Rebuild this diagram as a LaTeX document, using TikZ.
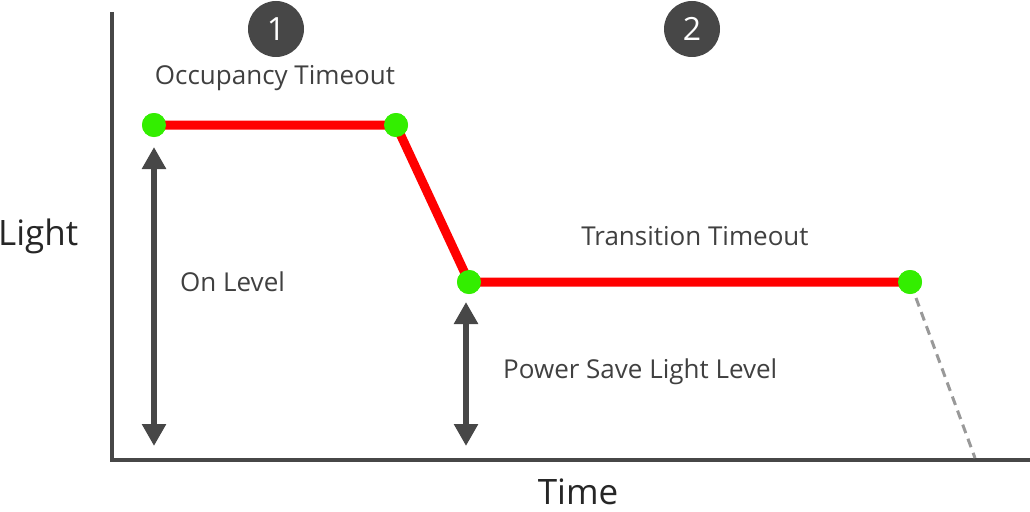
\documentclass[tikz,border=0pt]{standalone}
\usepackage{fontspec}
\setmainfont{Open Sans}
\usetikzlibrary{arrows.meta}
\definecolor{axisgray}{HTML}{474747}
\definecolor{txtgray}{HTML}{404040}
\definecolor{dashgray}{HTML}{999999}
\definecolor{dotgreen}{HTML}{33EE00}
\begin{document}
\begin{tikzpicture}[x=1pt,y=-1pt,
  axis/.style={draw=axisgray,line width=4.5pt},
  level/.style={draw=red,line width=9pt},
  dot/.style={circle,fill=dotgreen,minimum size=24pt,inner sep=0pt},
  badge/.style={circle,fill=axisgray,minimum size=56pt,inner sep=0pt,text=white,font=\fontsize{32}{34}\selectfont},
  lbl/.style={text=txtgray,font=\fontsize{26}{28}\selectfont,inner sep=0pt},
  axlbl/.style={text=black!85,font=\fontsize{35}{38}\selectfont,inner sep=0pt},
  dim/.style={draw=axisgray,line width=6pt,{Triangle[width=23pt,length=22pt]}-{Triangle[width=23pt,length=22pt]}}
]
\useasboundingbox (0,0) rectangle (1030,511);
\coordinate (ytop) at (112,12);
\coordinate (orig) at (112,460);
\coordinate (xend) at (1030,460);
\draw[axis] (ytop) -- (orig.center) -- (xend);
% dashed fall
\coordinate (dstart) at (910,282);
\coordinate (dend) at (975,458);
\draw[draw=dashgray,line width=3pt,dash pattern=on 9pt off 6pt] ([shift={(6,16)}]dstart) -- (dend);
% levels
\node[dot] (p1) at (154,125) {};
\node[dot] (p2) at (396,125) {};
\node[dot] (p3) at (469,282) {};
\node[dot] (p4) at (910,282) {};
\draw[level] (p1.center) -- (p2.center) -- (p3.center) -- (p4.center);
\node[dot] at (p1) {};
\node[dot] at (p2) {};
\node[dot] at (p3) {};
\node[dot] at (p4) {};
% dimension arrows
\coordinate (a1t) at (154,147);
\coordinate (a1b) at (154,446);
\coordinate (a2t) at (466,302);
\coordinate (a2b) at (466,446);
\draw[dim] (a1t) -- (a1b);
\draw[dim] (a2t) -- (a2b);
% badges
\node[badge] (b1) at (276,29) {1};
\node[badge] (b2) at (692,29) {2};
% labels
\node[lbl] (occ) at (275,78) {Occupancy Timeout};
\node[lbl] (trans) at (695,236) {Transition Timeout};
\node[lbl,anchor=west] (on) at (180,282) {On Level};
\node[lbl,anchor=west] (ps) at (503,372) {Power Save Light Level};
\node[axlbl,anchor=west] (light) at (-2,236) {Light};
\node[axlbl,anchor=base] (time) at (578,504) {Time};
\end{tikzpicture}
\end{document}
